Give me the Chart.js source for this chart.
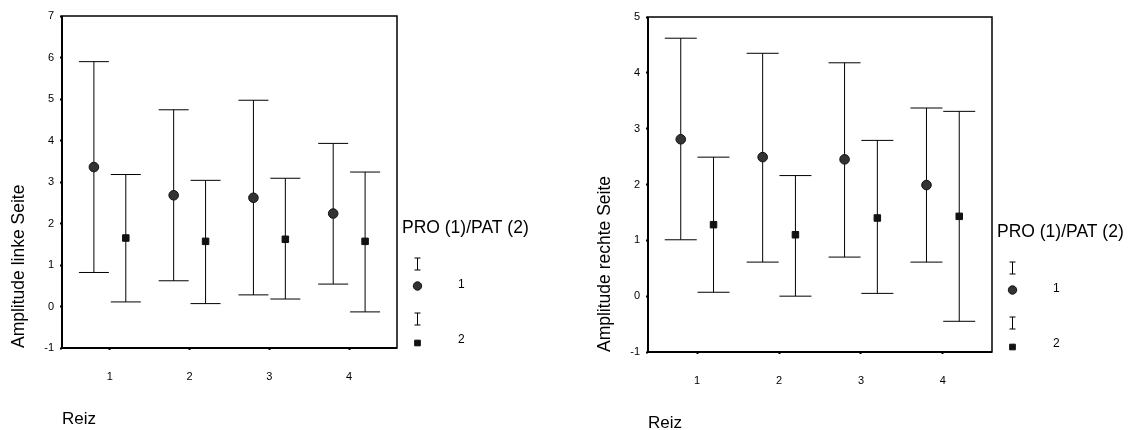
<!DOCTYPE html>
<html>
<head>
<meta charset="utf-8">
<script src="https://cdn.jsdelivr.net/npm/chart.js@4.4.1/dist/chart.umd.min.js"></script>
<style>
    html, body { margin: 0; padding: 0; background: #fff; }
    body { width: 1131px; height: 430px; position: relative; overflow: hidden; }
    .box { position: absolute; top: 0; height: 430px; }
    #leftBox { left: 0; width: 560px; }
    #rightBox { left: 586px; width: 545px; }
</style>
</head>
<body>
<div class="box" id="leftBox"><canvas id="leftChart"></canvas></div>
<div class="box" id="rightBox"><canvas id="rightChart"></canvas></div>
<script>
// Reiz (stimulus) categories and tick labels
const reiz = [1, 2, 3, 4];
const reizLabels = ['1', '2', '3', '4'];
const yTicksLeft = [-1, 0, 1, 2, 3, 4, 5, 6, 7];
const yTicksRight = [-1, 0, 1, 2, 3, 4, 5];

// Amplitude linke Seite: mean and error bar ends, PRO (1) and PAT (2)
const proMeanLeft = [3.36, 2.68, 2.62, 2.24];
const proLowLeft = [0.82, 0.62, 0.28, 0.54];
const proHighLeft = [5.90, 4.74, 4.97, 3.93];
const patMeanLeft = [1.65, 1.57, 1.62, 1.57];
const patLowLeft = [0.11, 0.07, 0.18, -0.13];
const patHighLeft = [3.18, 3.04, 3.09, 3.24];

// Amplitude rechte Seite
const proMeanRight = [2.81, 2.49, 2.45, 1.99];
const proLowRight = [1.01, 0.61, 0.70, 0.61];
const proHighRight = [4.62, 4.35, 4.18, 3.37];
const patMeanRight = [1.28, 1.10, 1.40, 1.43];
const patLowRight = [0.07, 0.00, 0.05, -0.45];
const patHighRight = [2.49, 2.16, 2.79, 3.31];

const FONT = '"Liberation Sans", Arial, Helvetica, sans-serif';

// frame round the plot area
const plotFrame = {
    id: 'plotFrame',
    beforeDatasetsDraw(chart) {
        const { ctx, chartArea: a } = chart;
        ctx.save();
        ctx.strokeStyle = '#000';
        ctx.lineWidth = 1.5;
        ctx.strokeRect(a.left, a.top, a.right - a.left, a.bottom - a.top);
        ctx.lineWidth = 2;
        ctx.beginPath();
        ctx.moveTo(a.left, a.top);
        ctx.lineTo(a.left, a.bottom);
        ctx.lineTo(a.right, a.bottom);
        ctx.stroke();
        ctx.restore();
    }
};

// SPSS style legend to the right of the plot
const sideLegend = {
    id: 'sideLegend',
    afterDraw(chart, args, opts) {
        const { ctx, chartArea: a } = chart;
        const x0 = a.right;
        const b = a.bottom;
        ctx.save();
        ctx.fillStyle = '#000';
        ctx.strokeStyle = '#000';
        ctx.textBaseline = 'middle';
        ctx.textAlign = 'left';
        ctx.font = '17.5px ' + FONT;
        ctx.fillText(opts.title, x0 + 5, b - 120);
        opts.items.forEach(item => {
            const sx = Math.round(x0 + 20) + 0.5;
            // I-beam symbol
            const iy = b + item.beamY;
            ctx.lineWidth = 1;
            ctx.beginPath();
            ctx.moveTo(sx, iy - 6);
            ctx.lineTo(sx, iy + 6);
            ctx.moveTo(sx - 3, iy - 6);
            ctx.lineTo(sx + 3, iy - 6);
            ctx.moveTo(sx - 3, iy + 6);
            ctx.lineTo(sx + 3, iy + 6);
            ctx.stroke();
            // marker
            ctx.fillStyle = item.fill;
            ctx.strokeStyle = '#111';
            Chart.helpers.drawPoint(ctx, {
                pointStyle: item.style, radius: item.radius, rotation: 0, borderWidth: 1
            }, sx, b + item.markY);
            ctx.fillStyle = '#000';
            ctx.strokeStyle = '#000';
            ctx.font = '12px ' + FONT;
            ctx.fillText(item.label, x0 + 61, b + item.labelY);
        });
        ctx.restore();
    }
};

function errorBarPoints(lows, highs, shift) {
    const pts = [];
    reiz.forEach((r, i) => {
        pts.push({ x: r + shift, y: lows[i] });
        pts.push({ x: r + shift, y: highs[i] });
        pts.push({ x: r + shift, y: null });
    });
    return pts;
}

function meanPoints(means, shift) {
    return reiz.map((r, i) => ({ x: r + shift, y: means[i] }));
}

function makeChart(canvasId, s) {
    const capRadius = s.capRadius;
    const barSet = (lows, highs, shift) => ({
        type: 'line',
        data: errorBarPoints(lows, highs, shift),
        showLine: true,
        spanGaps: false,
        borderColor: '#000',
        borderWidth: 1,
        pointStyle: 'line',
        pointRadius: capRadius,
        pointBorderWidth: 1,
        pointBorderColor: '#000',
        order: 2
    });
    const markSet = (means, shift, style, radius, fill) => ({
        type: 'line',
        data: meanPoints(means, shift),
        showLine: false,
        pointStyle: style,
        pointRadius: radius,
        pointBackgroundColor: fill,
        pointBorderColor: '#111',
        pointBorderWidth: 1,
        order: 0
    });

    return new Chart(document.getElementById(canvasId), {
        type: 'line',
        data: {
            datasets: [
                markSet(s.proMean, -0.2, 'circle', 4.8, '#333'),
                markSet(s.patMean, 0.2, 'rect', 4.6, '#111'),
                barSet(s.proLow, s.proHigh, -0.2),
                barSet(s.patLow, s.patHigh, 0.2)
            ]
        },
        options: {
            responsive: true,
            maintainAspectRatio: false,
            animation: false,
            layout: { padding: { left: 0, top: s.top, right: s.right, bottom: 0 } },
            plugins: {
                legend: { display: false },
                tooltip: { enabled: false },
                sideLegend: {
                    title: 'PRO (1)/PAT (2)',
                    items: [
                        { label: '1', style: 'circle', radius: 4.2, fill: '#333', beamY: -84, markY: -62, labelY: -63 },
                        { label: '2', style: 'rect', radius: 4, fill: '#111', beamY: -29, markY: -5, labelY: -8 }
                    ]
                }
            },
            scales: {
                x: {
                    type: 'linear',
                    min: 0.4,
                    max: 4.6,
                    afterBuildTicks: scale => { scale.ticks = reiz.map(v => ({ value: v })); },
                    afterFit: scale => { scale.height = s.xHeight; },
                    ticks: {
                        font: { family: FONT, size: 11 },
                        color: '#000',
                        padding: 20,
                        callback: v => reizLabels[reiz.indexOf(v)]
                    },
                    grid: {
                        display: true, drawOnChartArea: false, drawTicks: true,
                        tickLength: 2, tickWidth: 2, tickColor: '#000'
                    },
                    border: { display: false },
                    title: {
                        display: true,
                        text: 'Reiz',
                        align: 'start',
                        color: '#000',
                        font: { family: FONT, size: 17 },
                        padding: { top: 0, bottom: s.reizPad }
                    }
                },
                y: {
                    min: s.yTicks[0],
                    max: s.yTicks[s.yTicks.length - 1],
                    afterBuildTicks: scale => { scale.ticks = s.yTicks.map(v => ({ value: v })); },
                    afterFit: scale => { scale.width = 62; },
                    ticks: {
                        font: { family: FONT, size: 11 },
                        color: '#000',
                        padding: 6
                    },
                    grid: {
                        display: true, drawOnChartArea: false, drawTicks: true,
                        tickLength: 2, tickWidth: 2, tickColor: '#000'
                    },
                    border: { display: false },
                    title: {
                        display: true,
                        text: s.yTitle,
                        align: 'start',
                        color: '#000',
                        font: { family: FONT, size: 17.5 },
                        padding: { top: 9, bottom: 0 }
                    }
                }
            }
        },
        plugins: [plotFrame, sideLegend]
    });
}

makeChart('leftChart', {
    yTitle: 'Amplitude linke Seite',
    yTicks: yTicksLeft,
    proMean: proMeanLeft, proLow: proLowLeft, proHigh: proHighLeft,
    patMean: patMeanLeft, patLow: patLowLeft, patHigh: patHighLeft,
    top: 15, right: 163, xHeight: 82, reizPad: 0, capRadius: 15
});

makeChart('rightChart', {
    yTitle: 'Amplitude rechte Seite',
    yTicks: yTicksRight,
    proMean: proMeanRight, proLow: proLowRight, proHigh: proHighRight,
    patMean: patMeanRight, patLow: patLowRight, patHigh: patHighRight,
    top: 16, right: 139, xHeight: 78, reizPad: -4, capRadius: 16
});
</script>
</body>
</html>
